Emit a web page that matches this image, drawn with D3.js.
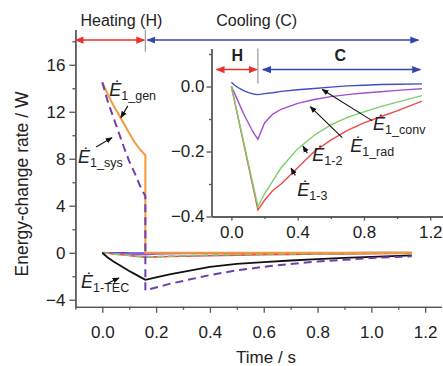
<!DOCTYPE html>
<html>
<head>
<meta charset="utf-8">
<script src="https://cdn.jsdelivr.net/npm/d3@7"></script>
<style>
  body { margin: 0; background: #fff; }
  svg { font-family: "Liberation Sans", Arial, sans-serif; }
  .tick text { fill: #222; }
</style>
</head>
<body>
<div id="body"></div>
<script>
// time points (s)
var tHeat = [0, 0.02, 0.04, 0.06, 0.08, 0.10, 0.12, 0.14, 0.16];
var tCool = [0.16, 0.2, 0.25, 0.3, 0.4, 0.5, 0.6, 0.7, 0.8, 0.9, 1.0, 1.15];

// main chart series (W)
var genHeat = [14.5, 13.5, 12.6, 11.8, 11.0, 10.2, 9.4, 8.8, 8.3];
var genCool = [0, 0, 0, 0, 0, 0, 0, 0, 0, 0, 0, 0];
var sysHeat = [14.5, 12.9, 11.6, 10.3, 9.0, 7.8, 6.8, 5.7, 4.8];
var sysCool = [-3.2, -2.95, -2.65, -2.4, -1.9, -1.5, -1.2, -0.95, -0.75, -0.6, -0.45, -0.3];
var tecHeat = [0, -0.4, -0.72, -1.0, -1.28, -1.55, -1.8, -2.05, -2.3];
var tecCool = [-2.3, -2.1, -1.85, -1.62, -1.2, -0.95, -0.8, -0.66, -0.54, -0.44, -0.35, -0.22];

// inset series (W)
var convHeat = [0.013, 0.004, -0.003, -0.009, -0.014, -0.018, -0.021, -0.024, -0.025];
var convCool = [-0.025, -0.022, -0.019, -0.015, -0.01, -0.006, -0.002, 0.002, 0.004, 0.006, 0.007, 0.008];
var radHeat = [0, -0.022, -0.045, -0.068, -0.09, -0.11, -0.13, -0.147, -0.162];
var radCool = [-0.162, -0.112, -0.085, -0.07, -0.052, -0.04, -0.031, -0.025, -0.02, -0.016, -0.012, -0.007];
var e12Heat = [0, -0.046, -0.093, -0.139, -0.185, -0.231, -0.277, -0.323, -0.37];
var e12Cool = [-0.37, -0.33, -0.29, -0.25, -0.192, -0.15, -0.118, -0.095, -0.078, -0.062, -0.048, -0.028];
var e13Heat = [0, -0.047, -0.095, -0.142, -0.19, -0.237, -0.285, -0.332, -0.38];
var e13Cool = [-0.38, -0.35, -0.32, -0.3, -0.25, -0.2, -0.165, -0.135, -0.112, -0.093, -0.075, -0.045];

// ticks
var mainXTicks = [0, 0.2, 0.4, 0.6, 0.8, 1.0, 1.2];
var mainYTicks = [-4, 0, 4, 8, 12, 16];
var insetXTicks = [0, 0.4, 0.8, 1.2];
var insetYTicks = [-0.4, -0.2, 0.0];

var tSwitch = 0.16;

function series(heat, cool) {
  return tHeat.map(function(t, i) { return [t, heat[i]]; })
    .concat(tCool.map(function(t, i) { return [t, cool[i]]; }));
}

var width = 443, height = 366;

var svg = d3.select("#body")
  .append("svg")
  .attr("width", width)
  .attr("height", height);

var defs = svg.append("defs");
function marker(id, color, size) {
  defs.append("marker")
    .attr("id", id)
    .attr("viewBox", "0 0 10 10")
    .attr("refX", 9).attr("refY", 5)
    .attr("markerUnits", "userSpaceOnUse")
    .attr("markerWidth", size).attr("markerHeight", size)
    .attr("orient", "auto-start-reverse")
    .append("path")
    .attr("d", "M0,1 L10,5 L0,9 Z")
    .attr("fill", color);
}
marker("arRed", "#e8322c", 9);
marker("arBlue", "#3346b0", 9);
marker("arBlack", "#111", 7);

// ---------- main chart ----------
var x = d3.scaleLinear().domain([-0.1, 1.26]).range([75.4, 441.3]);
var y = d3.scaleLinear().domain([-4.6, 19]).range([306.8, 29.5]);

var axisColor = "#555";

var xAxis = svg.append("g")
  .attr("transform", "translate(0," + y(-4.6) + ")")
  .call(d3.axisBottom(x).tickValues(mainXTicks).tickFormat(d3.format(".1f"))
    .tickSize(6).tickPadding(13).tickSizeOuter(0));
svg.append("g")
  .attr("transform", "translate(0," + y(-4.6) + ")")
  .call(d3.axisBottom(x).tickValues(d3.range(-0.1, 1.26, 0.2)).tickFormat("").tickSize(3).tickSizeOuter(0));

var yAxis = svg.append("g")
  .attr("transform", "translate(" + x(-0.1) + ",0)")
  .call(d3.axisLeft(y).tickValues(mainYTicks).tickSize(6).tickPadding(4).tickSizeOuter(0));
svg.append("g")
  .attr("transform", "translate(" + x(-0.1) + ",0)")
  .call(d3.axisLeft(y).tickValues([-2, 2, 6, 10, 14, 18]).tickFormat("").tickSize(3).tickSizeOuter(0));

svg.selectAll(".domain, .tick line").attr("stroke", axisColor).attr("stroke-width", 1.3);
xAxis.selectAll("text").style("font-size", "17px");
yAxis.selectAll("text").style("font-size", "17px");

svg.append("text")
  .attr("transform", "rotate(-90)")
  .attr("x", -184)
  .attr("y", 28)
  .attr("text-anchor", "middle")
  .style("font-size", "17.5px")
  .attr("fill", "#222")
  .text("Energy-change rate  / W");

svg.append("text")
  .attr("x", 266)
  .attr("y", 363)
  .attr("text-anchor", "middle")
  .style("font-size", "17px")
  .attr("fill", "#222")
  .text("Time  / s");

var lineMain = d3.line()
  .x(function(d) { return x(d[0]); })
  .y(function(d) { return y(d[1]); });

var mainLines = [
  { data: series(convHeat, convCool), color: "#3c4fc4", dash: null, w: 1.6 },
  { data: series(radHeat, radCool), color: "#a34fd0", dash: null, w: 1.6 },
  { data: series(e13Heat, e13Cool), color: "#ee4a4a", dash: null, w: 1.6 },
  { data: series(e12Heat, e12Cool), color: "#7ccf6a", dash: "7,4", w: 1.6 },
  { data: series(tecHeat, tecCool), color: "#111", dash: null, w: 1.8 },
  { data: series(genHeat, genCool), color: "#f29a3c", dash: null, w: 2 },
  { data: series(sysHeat, sysCool), color: "#6a3fb0", dash: "8,5", w: 2 }
];

svg.selectAll(".mline")
  .data(mainLines)
  .enter().append("path")
  .attr("class", "mline")
  .attr("d", function(d) { return lineMain(d.data); })
  .attr("fill", "none")
  .attr("stroke", function(d) { return d.color; })
  .attr("stroke-width", function(d) { return d.w; })
  .attr("stroke-dasharray", function(d) { return d.dash; });

// phase arrows
var phaseY = 18.1;
svg.append("line")
  .attr("x1", x(-0.1)).attr("x2", x(tSwitch) - 1)
  .attr("y1", y(phaseY)).attr("y2", y(phaseY))
  .attr("stroke", "#e8322c").attr("stroke-width", 1.5)
  .attr("marker-start", "url(#arRed)").attr("marker-end", "url(#arRed)");
svg.append("line")
  .attr("x1", x(tSwitch) + 2).attr("x2", x(1.175))
  .attr("y1", y(phaseY)).attr("y2", y(phaseY))
  .attr("stroke", "#3346b0").attr("stroke-width", 1.5)
  .attr("marker-start", "url(#arBlue)").attr("marker-end", "url(#arBlue)");
svg.append("line")
  .attr("x1", x(tSwitch)).attr("x2", x(tSwitch))
  .attr("y1", y(19)).attr("y2", y(17.1))
  .attr("stroke", "#999").attr("stroke-width", 1.2);
svg.append("text")
  .attr("x", x(0.071)).attr("y", 26)
  .attr("text-anchor", "middle").style("font-size", "16px").attr("fill", "#222")
  .text("Heating (H)");
svg.append("text")
  .attr("x", x(0.574)).attr("y", 26)
  .attr("text-anchor", "middle").style("font-size", "16px").attr("fill", "#222")
  .text("Cooling (C)");

// ---------- inset ----------
var xi = d3.scaleLinear().domain([-0.12, 1.28]).range([211.5, 443.5]);
var yi = d3.scaleLinear().domain([-0.4, 0.117]).range([216.5, 48.5]);

var ixAxis = svg.append("g")
  .attr("transform", "translate(0," + yi(-0.4) + ")")
  .call(d3.axisBottom(xi).tickValues(insetXTicks).tickFormat(d3.format(".1f"))
    .tickSize(4).tickPadding(5).tickSizeOuter(0));
svg.append("g")
  .attr("transform", "translate(0," + yi(-0.4) + ")")
  .call(d3.axisBottom(xi).tickValues([0.2, 0.6, 1.0]).tickFormat("").tickSize(2.5).tickSizeOuter(0));
var iyAxis = svg.append("g")
  .attr("transform", "translate(" + xi(-0.12) + ",0)")
  .call(d3.axisLeft(yi).tickValues(insetYTicks).tickFormat(d3.format(".1f"))
    .tickSize(5).tickPadding(2).tickSizeOuter(0));
svg.append("g")
  .attr("transform", "translate(" + xi(-0.12) + ",0)")
  .call(d3.axisLeft(yi).tickValues([-0.3, -0.1, 0.1]).tickFormat("").tickSize(2.5).tickSizeOuter(0));

svg.selectAll(".domain, .tick line").attr("stroke", axisColor).attr("stroke-width", 1.3);
ixAxis.selectAll("text").style("font-size", "17px");
iyAxis.selectAll("text").style("font-size", "17px");

var lineInset = d3.line()
  .x(function(d) { return xi(d[0]); })
  .y(function(d) { return yi(d[1]); });

var insetLines = [
  { data: series(convHeat, convCool), color: "#3c4fc4", dash: null },
  { data: series(radHeat, radCool), color: "#a34fd0", dash: null },
  { data: series(e13Heat, e13Cool), color: "#ee4a4a", dash: null },
  { data: series(e12Heat, e12Cool), color: "#7ccf6a", dash: null }
];

svg.selectAll(".iline")
  .data(insetLines)
  .enter().append("path")
  .attr("class", "iline")
  .attr("d", function(d) { return lineInset(d.data); })
  .attr("fill", "none")
  .attr("stroke", function(d) { return d.color; })
  .attr("stroke-width", 1.4)
  .attr("stroke-dasharray", function(d) { return d.dash; });

var iPhaseY = 0.052;
svg.append("line")
  .attr("x1", xi(-0.09)).attr("x2", xi(tSwitch) - 1)
  .attr("y1", yi(iPhaseY)).attr("y2", yi(iPhaseY))
  .attr("stroke", "#e8322c").attr("stroke-width", 1.5)
  .attr("marker-start", "url(#arRed)").attr("marker-end", "url(#arRed)");
svg.append("line")
  .attr("x1", xi(0.19)).attr("x2", xi(1.14))
  .attr("y1", yi(iPhaseY)).attr("y2", yi(iPhaseY))
  .attr("stroke", "#3346b0").attr("stroke-width", 1.5)
  .attr("marker-start", "url(#arBlue)").attr("marker-end", "url(#arBlue)");
svg.append("line")
  .attr("x1", xi(tSwitch)).attr("x2", xi(tSwitch))
  .attr("y1", yi(0.117)).attr("y2", yi(0.009))
  .attr("stroke", "#999").attr("stroke-width", 1.2);
svg.append("text")
  .attr("x", xi(0.036)).attr("y", yi(0.077))
  .attr("text-anchor", "middle").style("font-size", "16px").style("font-weight", "bold").attr("fill", "#222")
  .text("H");
svg.append("text")
  .attr("x", xi(0.657)).attr("y", yi(0.077))
  .attr("text-anchor", "middle").style("font-size", "16px").style("font-weight", "bold").attr("fill", "#222")
  .text("C");

// ---------- annotations ----------
var mainNotes = [
  { sub: "1_gen", lx: 0.026, ly: 13.3, from: [0.095, 12.5], to: [0.069, 11.5] },
  { sub: "1_sys", lx: -0.09, ly: 7.6, from: [-0.023, 9.0], to: [0.036, 9.8] },
  { sub: "1-TEC", lx: -0.079, ly: -3.0, from: [0.014, -2.65], to: [0.062, -2.15] }
];
var insetNotes = [
  { sub: "1_conv", lx: 0.855, ly: -0.135, from: [0.849, -0.105], to: [0.548, -0.009] },
  { sub: "1_rad", lx: 0.717, ly: -0.2, from: [0.669, -0.157], to: [0.476, -0.062] },
  { sub: "1-2", lx: 0.488, ly: -0.228, from: [0.458, -0.205], to: [0.432, -0.183] },
  { sub: "1-3", lx: 0.398, ly: -0.338, from: [0.386, -0.274], to: [0.36, -0.251] }
];

function drawNotes(notes, sx, sy) {
  notes.forEach(function(n) {
    svg.append("line")
      .attr("x1", sx(n.from[0])).attr("y1", sy(n.from[1]))
      .attr("x2", sx(n.to[0])).attr("y2", sy(n.to[1]))
      .attr("stroke", "#111").attr("stroke-width", 1.1)
      .attr("marker-end", "url(#arBlack)");
    var t = svg.append("text")
      .attr("x", sx(n.lx)).attr("y", sy(n.ly))
      .attr("fill", "#222");
    t.append("tspan")
      .style("font-size", "18px").style("font-style", "italic")
      .text("\u0116");
    t.append("tspan")
      .attr("dy", 4)
      .style("font-size", "12.5px")
      .text(n.sub);
  });
}
drawNotes(mainNotes, x, y);
drawNotes(insetNotes, xi, yi);
</script>
</body>
</html>
